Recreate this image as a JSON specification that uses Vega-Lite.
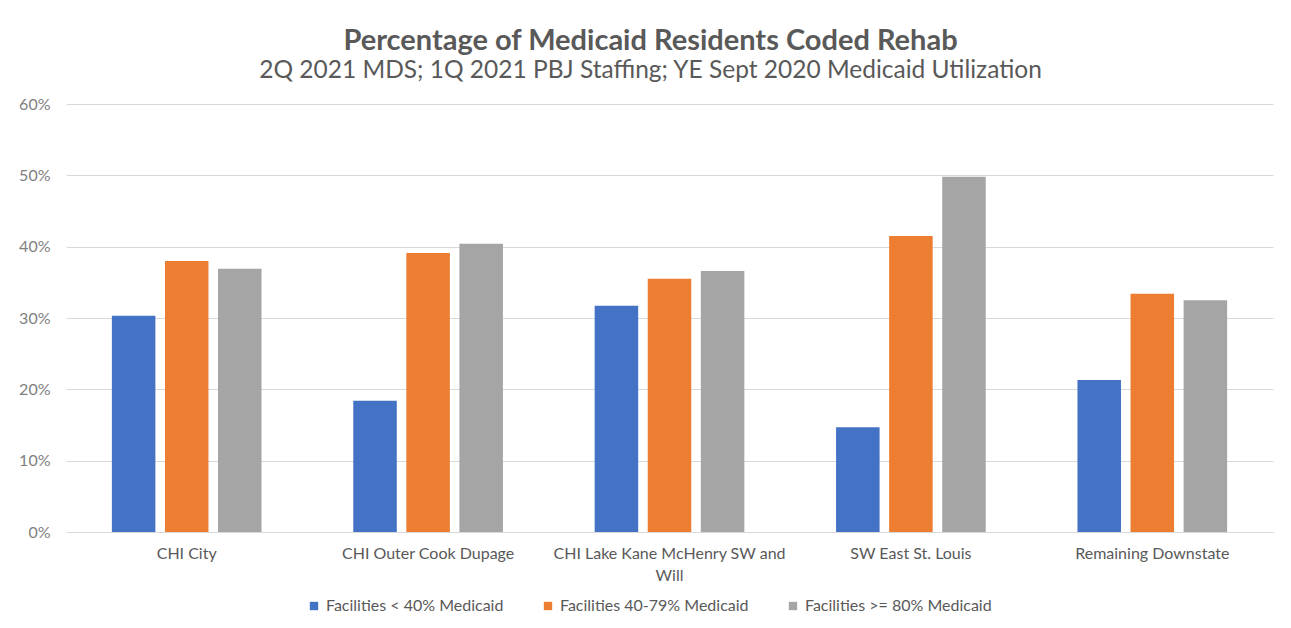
{
  "$schema": "https://vega.github.io/schema/vega-lite/v6.json",
  "width": 1207,
  "height": 428,
  "autosize": {"type": "none"},
  "padding": {"left": 66, "top": 104, "right": 18, "bottom": 96},
  "background": "white",
  "title": {
    "text": "Percentage of Medicaid Residents Coded Rehab",
    "subtitle": "2Q 2021 MDS; 1Q 2021 PBJ Staffing; YE Sept 2020 Medicaid Utilization",
    "anchor": "middle",
    "dx": -19,
    "offset": 14,
    "font": "Lato",
    "fontSize": 29,
    "fontWeight": "bold",
    "color": "#595959",
    "subtitleFont": "Lato",
    "subtitleFontSize": 24.5,
    "subtitleColor": "#595959",
    "subtitlePadding": 3
  },
  "config": {
    "view": {"stroke": null},
    "font": "Lato"
  },
  "data": {
    "values": [
      {"region": "CHI City", "group": "Facilities < 40% Medicaid", "value": 0.303},
      {"region": "CHI City", "group": "Facilities 40-79% Medicaid", "value": 0.380},
      {"region": "CHI City", "group": "Facilities >= 80% Medicaid", "value": 0.369},
      {"region": "CHI Outer Cook Dupage", "group": "Facilities < 40% Medicaid", "value": 0.184},
      {"region": "CHI Outer Cook Dupage", "group": "Facilities 40-79% Medicaid", "value": 0.391},
      {"region": "CHI Outer Cook Dupage", "group": "Facilities >= 80% Medicaid", "value": 0.404},
      {"region": "CHI Lake Kane McHenry SW and Will", "group": "Facilities < 40% Medicaid", "value": 0.317},
      {"region": "CHI Lake Kane McHenry SW and Will", "group": "Facilities 40-79% Medicaid", "value": 0.355},
      {"region": "CHI Lake Kane McHenry SW and Will", "group": "Facilities >= 80% Medicaid", "value": 0.366},
      {"region": "SW East St. Louis", "group": "Facilities < 40% Medicaid", "value": 0.147},
      {"region": "SW East St. Louis", "group": "Facilities 40-79% Medicaid", "value": 0.415},
      {"region": "SW East St. Louis", "group": "Facilities >= 80% Medicaid", "value": 0.498},
      {"region": "Remaining Downstate", "group": "Facilities < 40% Medicaid", "value": 0.213},
      {"region": "Remaining Downstate", "group": "Facilities 40-79% Medicaid", "value": 0.334},
      {"region": "Remaining Downstate", "group": "Facilities >= 80% Medicaid", "value": 0.325}
    ]
  },
  "mark": {"type": "bar"},
  "encoding": {
    "x": {
      "field": "region",
      "type": "nominal",
      "sort": null,
      "scale": {"paddingInner": 0.38, "paddingOuter": 0.19},
      "axis": {
        "title": null,
        "labelAngle": 0,
        "labelFont": "Lato",
        "labelFontSize": 16,
        "labelColor": "#595959",
        "labelPadding": 13,
        "labelLimit": 400,
        "ticks": false,
        "domainColor": "#d9d9d9",
        "labelExpr": "datum.label == 'CHI Lake Kane McHenry SW and Will' ? ['CHI Lake Kane McHenry SW and', 'Will'] : datum.label",
        "labelLineHeight": 22
      }
    },
    "xOffset": {
      "field": "group",
      "type": "nominal",
      "sort": null,
      "scale": {"paddingInner": 0.18}
    },
    "y": {
      "field": "value",
      "type": "quantitative",
      "scale": {"domain": [0, 0.6]},
      "axis": {
        "title": null,
        "format": ".0%",
        "values": [0, 0.1, 0.2, 0.3, 0.4, 0.5, 0.6],
        "labelOverlap": false,
        "labelFont": "Lato",
        "labelFontSize": 16,
        "labelColor": "#7f7f7f",
        "labelPadding": 16,
        "ticks": false,
        "domain": false,
        "gridColor": "#d9d9d9"
      }
    },
    "color": {
      "field": "group",
      "type": "nominal",
      "sort": null,
      "scale": {"range": ["#4472C4", "#ED7D31", "#A5A5A5"]},
      "legend": {
        "title": null,
        "orient": "none",
        "legendX": 240,
        "legendY": 494,
        "direction": "horizontal",
        "symbolType": "square",
        "symbolSize": 70,
        "labelFont": "Lato",
        "labelFontSize": 16,
        "labelColor": "#595959",
        "columnPadding": 36,
        "labelLimit": 300
      }
    }
  }
}
